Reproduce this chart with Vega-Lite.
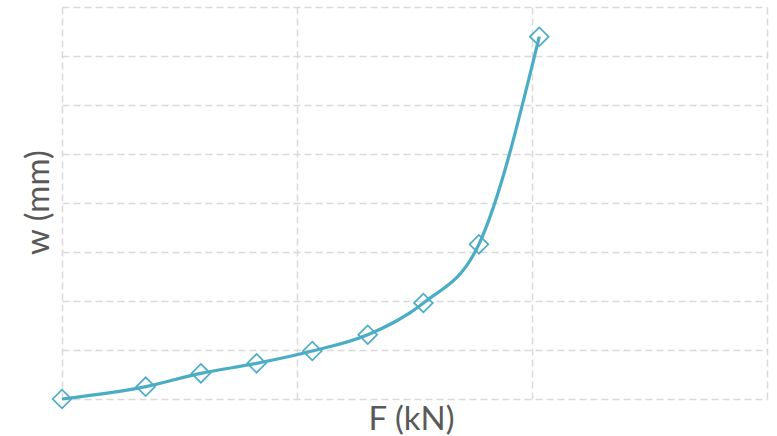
{
  "$schema": "https://vega.github.io/schema/vega-lite/v6.json",
  "width": 705,
  "height": 392,
  "autosize": {"type": "none"},
  "padding": {"left": 62, "top": 7, "right": 10, "bottom": 37},
  "background": "white",
  "config": {
    "view": {"stroke": null},
    "font": "Lato",
    "axis": {
      "grid": true,
      "gridColor": "#d9d9d9",
      "gridDash": [7, 4],
      "gridWidth": 1.5,
      "domain": false,
      "ticks": false,
      "labels": false,
      "titleFont": "Lato",
      "titleFontWeight": "normal",
      "titleColor": "#595959",
      "titleFontSize": 33
    }
  },
  "data": {
    "values": [
      {"F": 0, "w": 0},
      {"F": 3.56, "w": 1.26},
      {"F": 5.91, "w": 2.62},
      {"F": 8.28, "w": 3.64},
      {"F": 10.65, "w": 4.9},
      {"F": 13.01, "w": 6.56},
      {"F": 15.38, "w": 9.8},
      {"F": 17.74, "w": 15.78},
      {"F": 20.31, "w": 36.97}
    ]
  },
  "encoding": {
    "x": {
      "field": "F",
      "type": "quantitative",
      "scale": {"domain": [0, 30], "nice": false},
      "axis": {
        "values": [0, 10, 20, 30],
        "title": "F (kN)",
        "titleX": 349,
        "titleY": 30,
        "titleAlign": "center",
        "titleBaseline": "alphabetic",
        "titleAnchor": null
      }
    },
    "y": {
      "field": "w",
      "type": "quantitative",
      "scale": {"domain": [0, 40], "nice": false},
      "axis": {
        "values": [0, 5, 10, 15, 20, 25, 30, 35, 40],
        "title": "w (mm)",
        "titleX": -14,
        "titleY": 195,
        "titleAngle": -90,
        "titleAlign": "center",
        "titleBaseline": "alphabetic",
        "titleAnchor": null
      }
    }
  },
  "layer": [
    {
      "mark": {
        "type": "point",
        "shape": "diamond",
        "filled": false,
        "size": 350,
        "stroke": "#4BACC6",
        "strokeWidth": 1.7,
        "opacity": 1
      }
    },
    {
      "mark": {
        "type": "line",
        "interpolate": "monotone",
        "color": "#4BACC6",
        "strokeWidth": 3.2
      }
    }
  ]
}
